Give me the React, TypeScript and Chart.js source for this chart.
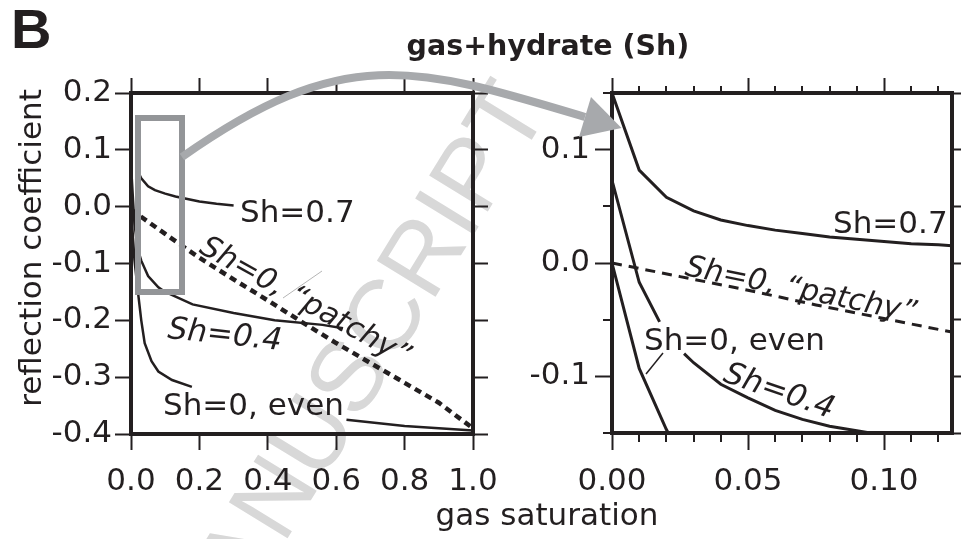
import React, { useEffect, useRef } from 'react';
import { Chart, registerables } from 'chart.js';

Chart.register(...registerables);

const INK = '#231f20';
const FAM = '"DejaVu Sans", sans-serif';
const TICK_FONT = { family: FAM, size: 31 };

// ---------- left panel: full gas-saturation range ----------
const L_SH07_X = [0.02, 0.03, 0.05, 0.07, 0.10, 0.13, 0.20, 0.25, 0.30];
const L_SH07_Y = [0.062, 0.050, 0.036, 0.029, 0.023, 0.018, 0.009, 0.005, 0.002];

const L_SH04_X = [0, 0.01, 0.02, 0.03, 0.05, 0.08, 0.10, 0.18, 0.30, 0.42, 0.56, 0.62];
const L_SH04_Y = [0.073, -0.03, -0.075, -0.095, -0.122, -0.142, -0.15, -0.172, -0.187, -0.2, -0.208, -0.214];

const L_EVEN_X = [0, 0.01, 0.02, 0.03, 0.04, 0.06, 0.08, 0.12, 0.178, 0.40, 0.63, 0.80, 0.90, 1.0];
const L_EVEN_Y = [0, -0.093, -0.148, -0.2, -0.24, -0.272, -0.29, -0.305, -0.317, null, -0.375, -0.386, -0.39, -0.394];

const L_PATCHY_X = [0, 0.1, 0.2, 0.3, 0.4, 0.5, 0.6, 0.7, 0.8, 0.9, 1.0];
const L_PATCHY_Y = [-0.005, -0.048, -0.09, -0.128, -0.165, -0.203, -0.24, -0.275, -0.31, -0.345, -0.39];

// ---------- right panel: zoom on low gas saturation ----------
const R_SH07_X = [0, 0.01, 0.02, 0.03, 0.04, 0.05, 0.06, 0.07, 0.08, 0.09, 0.10, 0.11, 0.12, 0.13];
const R_SH07_Y = [0.15, 0.082, 0.058, 0.046, 0.038, 0.033, 0.029, 0.026, 0.023, 0.021, 0.019, 0.017, 0.016, 0.0145];

const R_SH04_X = [0, 0.01, 0.0175, 0.022, 0.0265, 0.03, 0.04, 0.05, 0.06, 0.07, 0.08, 0.09, 0.10, 0.11, 0.12, 0.13];
const R_SH04_Y = [0.073, -0.017, -0.052, null, -0.08, -0.088, -0.107, -0.119, -0.13, -0.138, -0.144, -0.148, -0.152, -0.155, -0.158, -0.16];

const R_EVEN_X = [0, 0.01, 0.02, 0.03];
const R_EVEN_Y = [0, -0.093, -0.147, -0.19];

const R_PATCHY_X = [0, 0.025, 0.05, 0.075, 0.10, 0.125];
const R_PATCHY_Y = [0, -0.012, -0.024, -0.037, -0.049, -0.061];

// tick values
const R_Y_LABEL_TICKS = [-0.1, 0, 0.1];
const R_Y_MINOR = [-0.15, -0.05, 0.05, 0.15];
const R_X_MINOR = [0.01, 0.02, 0.03, 0.04, 0.06, 0.07, 0.08, 0.09, 0.11, 0.12];

const pts = (xs: number[], ys: (number | null)[]) => xs.map((x, i) => ({ x, y: ys[i] }));

function lineDs(xs: number[], ys: (number | null)[], width: number, dash: number[] = []) {
  return {
    data: pts(xs, ys),
    borderColor: INK,
    borderWidth: width,
    borderDash: dash,
    pointRadius: 0,
    fill: false,
    tension: 0,
    spanGaps: false,
  };
}

function text(ctx: CanvasRenderingContext2D, s: string, x: number, y: number, angle = 0, italic = false, size = 31, align: CanvasTextAlign = 'left') {
  ctx.save();
  ctx.translate(x, y);
  ctx.rotate((angle * Math.PI) / 180);
  ctx.font = `${italic ? 'italic ' : ''}${size}px ${FAM}`;
  ctx.fillStyle = INK;
  ctx.textAlign = align;
  ctx.textBaseline = 'alphabetic';
  ctx.fillText(s, 0, 0);
  ctx.restore();
}

function drawFrame(chart: any) {
  const { ctx, chartArea: a } = chart;
  ctx.save();
  ctx.strokeStyle = INK;
  ctx.lineWidth = 4;
  ctx.strokeRect(a.left, a.top, a.right - a.left, a.bottom - a.top);
  ctx.restore();
}

function xAxis(min: number, max: number, step: number, len: number, digits: number) {
  return {
    type: 'linear', position: 'bottom', min, max,
    afterFit: (s: any) => { s.height = 60; },
    border: { display: false },
    grid: { drawOnChartArea: false, drawTicks: true, tickLength: len, tickWidth: 2, tickColor: INK },
    ticks: { stepSize: step, includeBounds: false, color: INK, font: TICK_FONT, padding: 13, maxRotation: 0, autoSkip: false, callback: (v: any) => Number(v).toFixed(digits) },
  };
}
function topAxis(min: number, max: number, step: number, len: number) {
  return {
    type: 'linear', position: 'top', min, max,
    afterFit: (s: any) => { s.height = 20; },
    border: { display: false },
    grid: { drawOnChartArea: false, drawTicks: true, tickLength: len, tickWidth: 2, tickColor: INK },
    ticks: { display: false, stepSize: step, includeBounds: false },
  };
}
function rightAxis(min: number, max: number, step: number, len: number, w: number) {
  return {
    type: 'linear', position: 'right', min, max,
    afterFit: (s: any) => { s.width = w; },
    border: { display: false },
    grid: { drawOnChartArea: false, drawTicks: true, tickLength: len, tickWidth: 2, tickColor: INK },
    ticks: { display: false, stepSize: step, includeBounds: false },
  };
}

const leftDecor = {
  id: 'leftDecor',
  beforeDraw(chart: any) {
    const ctx = chart.ctx;
    ctx.save();
    ctx.translate(354, 377);
    ctx.rotate((-58.5 * Math.PI) / 180);
    ctx.font = '100px "Liberation Sans", Arial, sans-serif';
    ctx.fillStyle = '#d8d8d8';
    ctx.textAlign = 'center';
    ctx.textBaseline = 'middle';
    ctx.fillText('MANUSCRIPT', 0, 0);
    ctx.restore();
  },
  afterDatasetsDraw(chart: any) {
    const ctx = chart.ctx;
    ctx.save();
    ctx.strokeStyle = '#939598';
    ctx.lineWidth = 6;
    ctx.strokeRect(138, 118, 44, 174);
    ctx.strokeStyle = '#b5b5b5';
    ctx.lineWidth = 1;
    ctx.beginPath();
    ctx.moveTo(283, 298);
    ctx.lineTo(322, 271);
    ctx.stroke();
    ctx.restore();
    text(ctx, 'Sh=0.7', 240, 222);
    text(ctx, 'Sh=0, \u201Cpatchy\u201D', 198, 252, 29, true, 30);
    text(ctx, 'Sh=0.4', 167, 338, 6, true);
    text(ctx, 'Sh=0, even', 163, 415);
    drawFrame(chart);
  },
  afterDraw(chart: any) {
    const ctx = chart.ctx;
    ctx.save();
    ctx.fillStyle = INK;
    ctx.font = 'bold 56px "Liberation Sans", Arial, sans-serif';
    ctx.textBaseline = 'alphabetic';
    ctx.textAlign = 'left';
    ctx.fillText('B', 11, 48);
    ctx.font = `bold 28.5px ${FAM}`;
    ctx.textAlign = 'center';
    ctx.fillText('gas+hydrate (Sh)', 548, 55);
    ctx.restore();
    text(ctx, 'gas saturation', 547, 525, 0, false, 31, 'center');
    text(ctx, 'reflection coefficient', 41, 248, -90, false, 31, 'center');
  },
};

const rightDecor = {
  id: 'rightDecor',
  afterDatasetsDraw(chart: any) {
    const ctx = chart.ctx;
    const a = chart.chartArea;
    const sx = chart.scales.x;
    const sy = chart.scales.y;
    text(ctx, 'Sh=0.7', 833, 233);
    text(ctx, 'Sh=0, \u201Cpatchy\u201D', 684, 275, 11.5, true, 30);
    text(ctx, 'Sh=0, even', 644, 350);
    text(ctx, 'Sh=0.4', 722, 381, 19, true);
    ctx.save();
    ctx.strokeStyle = INK;
    ctx.lineWidth = 1.5;
    ctx.beginPath();
    ctx.moveTo(663, 353);
    ctx.lineTo(646, 374);
    ctx.stroke();
    ctx.lineWidth = 2;
    ctx.beginPath();
    R_X_MINOR.forEach((v) => {
      const p = Math.round(sx.getPixelForValue(v));
      ctx.moveTo(p, a.bottom);
      ctx.lineTo(p, a.bottom + 9);
      ctx.moveTo(p, a.top);
      ctx.lineTo(p, a.top - 7);
    });
    R_Y_MINOR.forEach((v) => {
      const p = Math.round(sy.getPixelForValue(v));
      ctx.moveTo(a.left, p);
      ctx.lineTo(a.left - 9, p);
    });
    ctx.stroke();
    ctx.restore();
    drawFrame(chart);
  },
  afterDraw(chart: any) {
    const ctx = chart.ctx;
    ctx.save();
    ctx.strokeStyle = '#a7a9ac';
    ctx.fillStyle = '#a7a9ac';
    ctx.lineWidth = 8;
    ctx.beginPath();
    ctx.moveTo(182, 157);
    ctx.bezierCurveTo(344, 43, 415, 66, 585, 117);
    ctx.stroke();
    ctx.beginPath();
    ctx.moveTo(621.5, 128);
    ctx.lineTo(579, 137);
    ctx.lineTo(591, 97);
    ctx.closePath();
    ctx.fill();
    ctx.restore();
  },
};

const common = {
  responsive: false,
  animation: false,
  devicePixelRatio: 1,
  events: [],
  plugins: { legend: { display: false }, tooltip: { enabled: false }, title: { display: false } },
};

function leftConfig(): any {
  return {
    type: 'line',
    data: {
      datasets: [
        lineDs(L_SH07_X, L_SH07_Y, 2.5),
        lineDs(L_SH04_X, L_SH04_Y, 2.5),
        lineDs(L_EVEN_X, L_EVEN_Y, 2.5),
        lineDs(L_PATCHY_X, L_PATCHY_Y, 4.5, [7, 5]),
      ],
    },
    options: {
      ...common,
      layout: { padding: { left: 0, right: 976 - 473 - 30, top: 93 - 20, bottom: 539 - 434 - 60 } },
      scales: {
        x: xAxis(0, 1, 0.2, 16, 1),
        xTop: topAxis(0, 1, 0.2, 15),
        y: {
          type: 'linear', position: 'left', min: -0.4, max: 0.2,
          afterFit: (s: any) => { s.width = 131; },
          border: { display: false },
          grid: { drawOnChartArea: false, drawTicks: true, tickLength: 16, tickWidth: 2, tickColor: INK },
          ticks: { stepSize: 0.1, color: INK, font: TICK_FONT, padding: 3, callback: (v: any) => Number(v).toFixed(1) },
        },
        yRight: rightAxis(-0.4, 0.2, 0.1, 15, 30),
      },
    },
    plugins: [leftDecor],
  };
}

function rightConfig(): any {
  return {
    type: 'line',
    data: {
      datasets: [
        lineDs(R_SH07_X, R_SH07_Y, 3),
        lineDs(R_SH04_X, R_SH04_Y, 3),
        lineDs(R_EVEN_X, R_EVEN_Y, 3),
        lineDs(R_PATCHY_X, R_PATCHY_Y, 3, [10, 7]),
      ],
    },
    options: {
      ...common,
      layout: { padding: { left: 612 - 100, right: 0, top: 93 - 20, bottom: 539 - 433 - 60 } },
      scales: {
        x: xAxis(0, 0.125, 0.05, 17, 2),
        xTop: topAxis(0, 0.125, 0.05, 15),
        y: {
          type: 'linear', position: 'left', min: -0.15, max: 0.15,
          afterFit: (s: any) => { s.width = 100; },
          afterBuildTicks: (s: any) => { s.ticks = R_Y_LABEL_TICKS.map((v) => ({ value: v })); },
          border: { display: false },
          grid: { drawOnChartArea: false, drawTicks: true, tickLength: 17, tickWidth: 2, tickColor: INK },
          ticks: { color: INK, font: TICK_FONT, padding: 5, callback: (v: any) => Number(v).toFixed(1) },
        },
        yRight: rightAxis(-0.15, 0.15, 0.05, 9, 24),
      },
    },
    plugins: [rightDecor],
  };
}

export default function App() {
  const leftRef = useRef<HTMLCanvasElement>(null);
  const rightRef = useRef<HTMLCanvasElement>(null);
  useEffect(() => {
    const c1 = new Chart(leftRef.current as HTMLCanvasElement, leftConfig());
    const c2 = new Chart(rightRef.current as HTMLCanvasElement, rightConfig());
    return () => {
      c1.destroy();
      c2.destroy();
    };
  }, []);
  const cs: React.CSSProperties = { position: 'absolute', left: 0, top: 0, width: 976, height: 539 };
  return (
    <div style={{ position: 'absolute', left: 0, top: 0, width: 976, height: 539, background: '#ffffff', overflow: 'hidden' }}>
      <canvas ref={leftRef} width={976} height={539} style={cs} />
      <canvas ref={rightRef} width={976} height={539} style={cs} />
    </div>
  );
}
